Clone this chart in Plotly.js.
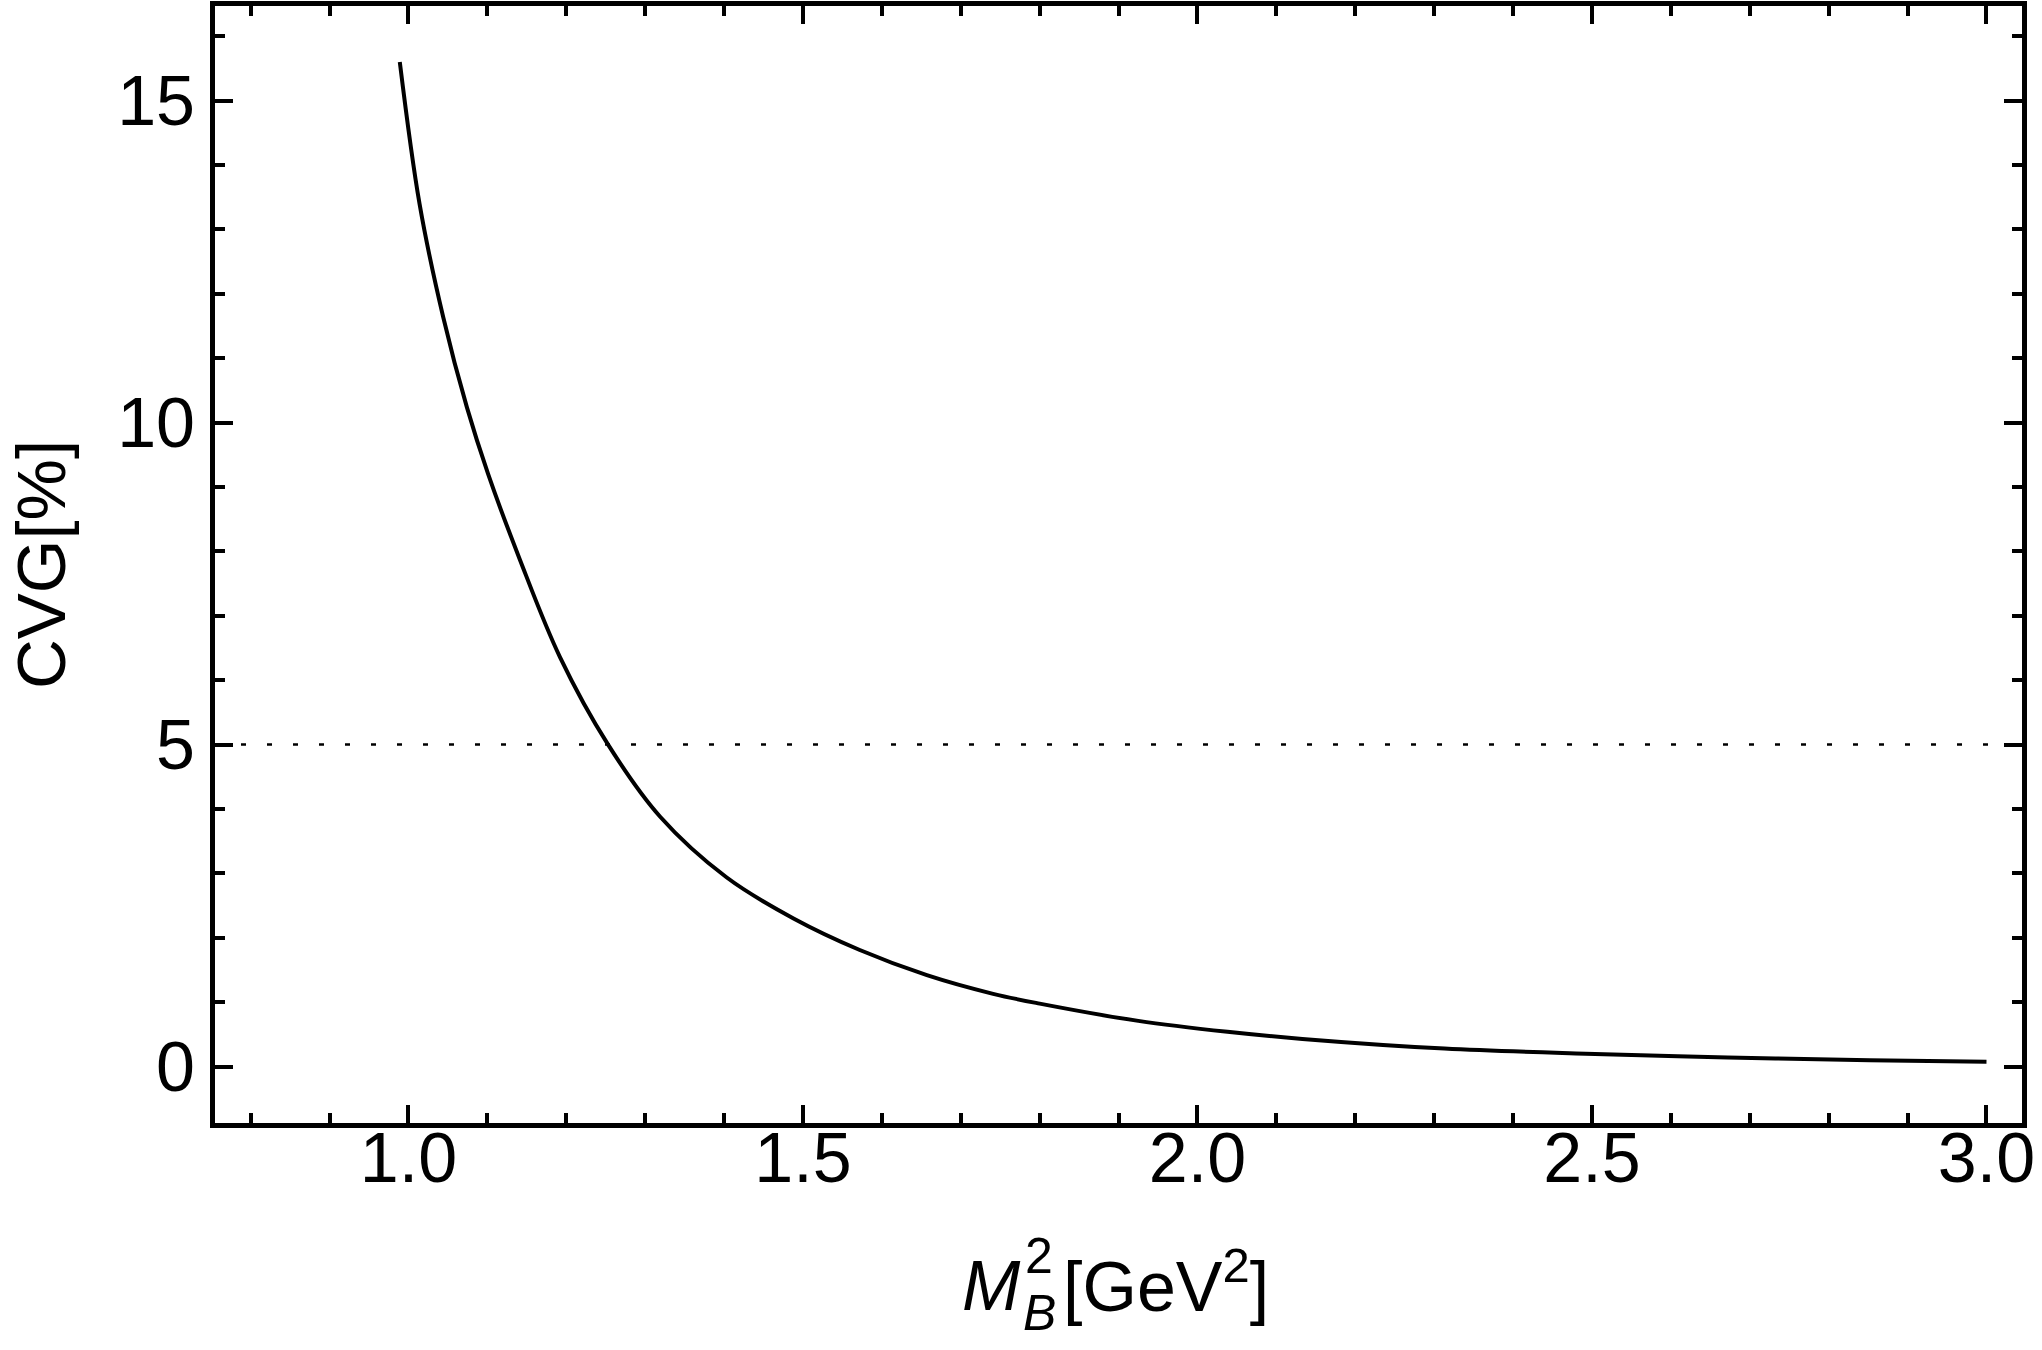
<!DOCTYPE html>
<html>
<head>
<meta charset="utf-8">
<script src="https://cdn.plot.ly/plotly-3.0.1.min.js"></script>
<style>
  html, body { margin: 0; padding: 0; background: #fff; }
  #cvg-chart { width: 2042px; height: 1350px; }
</style>
</head>
<body>
<div id="cvg-chart"></div>
<script>
// M_B^2 [GeV^2] vs CVG [%]
var borelMass = [0.989, 1.014, 1.044, 1.074, 1.101, 1.141, 1.192, 1.253, 1.319, 1.403,
  1.488, 1.572, 1.657, 1.741, 1.800, 1.925, 2.038, 2.133, 2.313, 2.492,
  2.672, 2.852, 3.000];
var cvgPct = [15.60, 13.40, 11.64, 10.24, 9.20, 7.88, 6.36, 5.00, 3.88, 2.94,
  2.30, 1.81, 1.42, 1.13, 0.978, 0.71, 0.54, 0.43, 0.28, 0.200,
  0.143, 0.100, 0.075];
var cvgLimit = 5;

var xTicks = [1.0, 1.5, 2.0, 2.5, 3.0];
var yTicks = [0, 5, 10, 15];

var FONT = "Liberation Sans, Arial, sans-serif";

function drawChart() {
  var curve = {
    type: "scatter",
    mode: "lines",
    x: borelMass,
    y: cvgPct,
    line: { color: "#000", width: 4, shape: "spline", smoothing: 1 },
    hoverinfo: "x+y"
  };

  var axisBase = {
    showline: true, linecolor: "#000", linewidth: 5,
    mirror: "allticks",
    ticks: "inside", ticklen: 18, tickwidth: 4, tickcolor: "#000",
    showgrid: false, zeroline: false,
    tickfont: { family: FONT, size: 70, color: "#000" }
  };

  var xaxis = Object.assign({}, axisBase, {
    range: [0.7548, 3.045],
    tickvals: xTicks,
    ticktext: xTicks.map(function(v) { return v.toFixed(1); }),
    ticklabelstandoff: -30,
    minor: { dtick: 0.1, tick0: 0, ticks: "inside", ticklen: 10, tickwidth: 4, tickcolor: "#000" }
  });

  var yaxis = Object.assign({}, axisBase, {
    range: [-0.876, 16.47],
    tickvals: yTicks,
    ticktext: yTicks.map(String),
    ticklabelstandoff: 1,
    minor: { dtick: 1, tick0: 0, ticks: "inside", ticklen: 10, tickwidth: 4, tickcolor: "#000" },
    title: { text: "CVG[%]", font: { family: FONT, size: 69, color: "#000" }, standoff: 30 }
  });

  // x title: M with a stacked 2 over B, then [GeV^2]
  var labelFont = { family: FONT, size: 70, color: "#000" };
  var smallFont = { family: FONT, size: 50, color: "#000" };
  var annotations = [
    { text: "<i>M</i>", font: labelFont, x: 0.4466, xanchor: "right", y: -0.146, yanchor: "middle" },
    { text: "2", font: smallFont, x: 0.4477, xanchor: "left", y: -0.119, yanchor: "middle" },
    { text: "<i>B</i>", font: smallFont, x: 0.4466, xanchor: "left", y: -0.170, yanchor: "middle" },
    { text: "[GeV<sup>2</sup>]", font: labelFont, x: 0.4690, xanchor: "left", y: -0.142, yanchor: "middle" }
  ].map(function(a) {
    return Object.assign({ xref: "paper", yref: "paper", showarrow: false, borderpad: 0 }, a);
  });

  var layout = {
    width: 2042, height: 1350,
    margin: { l: 215, r: 20, t: 6, b: 227 },
    paper_bgcolor: "#fff", plot_bgcolor: "#fff",
    showlegend: false,
    xaxis: xaxis, yaxis: yaxis,
    annotations: annotations,
    shapes: [{
      type: "line", xref: "paper", yref: "y",
      x0: 0, x1: 1, y0: cvgLimit, y1: cvgLimit,
      line: { color: "#000", width: 2.5, dash: "5px,21px" }
    }]
  };

  Plotly.newPlot("cvg-chart", [curve], layout, { displayModeBar: false, staticPlot: true });
}

drawChart();
</script>
</body>
</html>
